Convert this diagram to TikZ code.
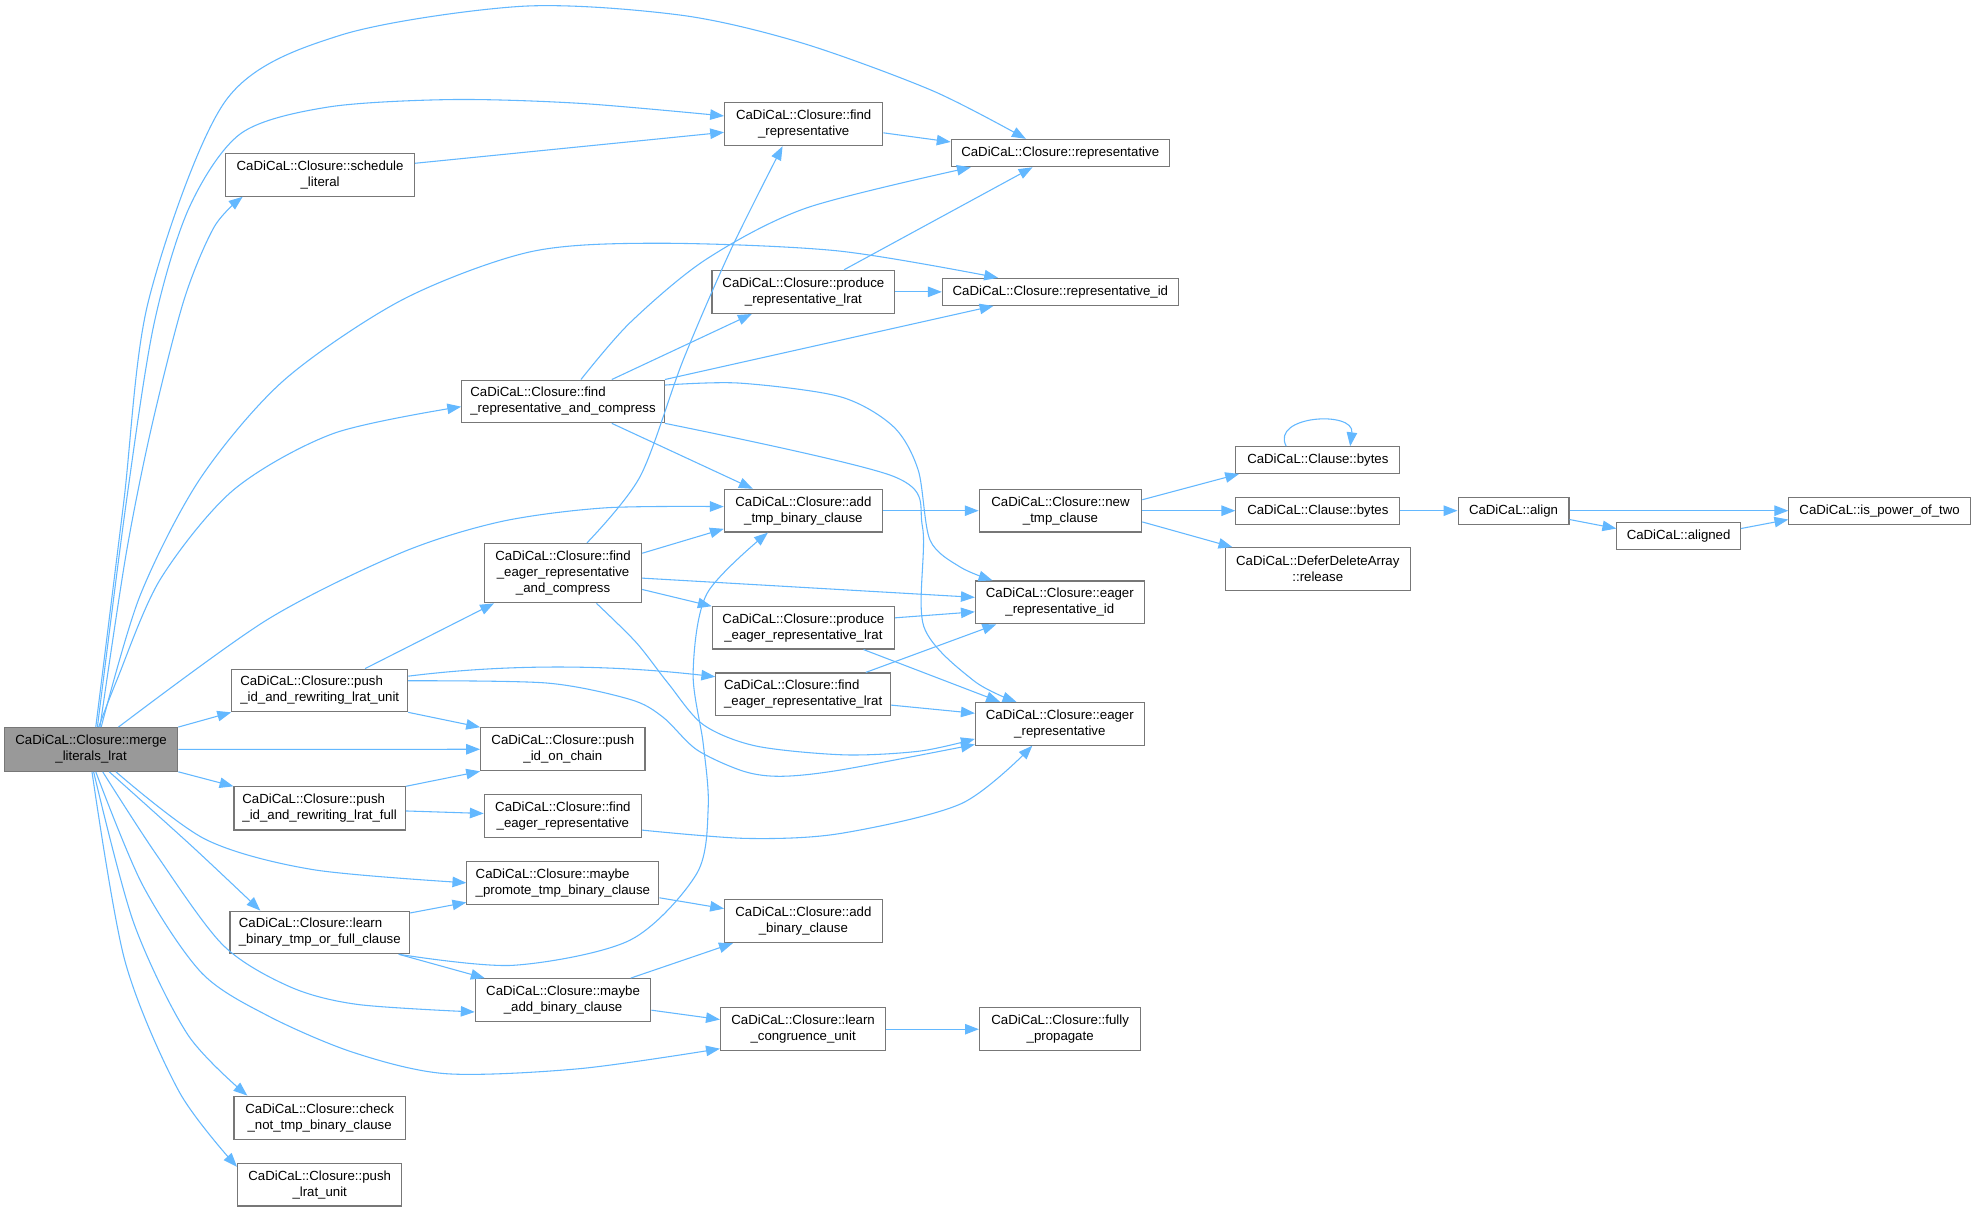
\documentclass[tikz,border=0pt]{standalone}
\usepackage{fontspec}
\setmainfont{Liberation Sans}
\usetikzlibrary{arrows.meta,calc}
\definecolor{edgecol}{HTML}{63B8FF}
\definecolor{boxborder}{HTML}{777777}
\definecolor{rootfill}{HTML}{999999}
\begin{document}
\begin{tikzpicture}[x=1pt,y=-1pt,
  nbox/.style={draw=boxborder, fill=white, line width=0.9pt, inner sep=0pt, align=center,
     font=\fontsize{10.5pt}{12.7pt}\selectfont},
  arr/.style={draw=edgecol, line width=0.85pt, line join=round, -{Triangle[length=11pt,width=8.3pt]}}]
\useasboundingbox (0,0) rectangle (1568,961);
\fill[white] (0,0) rectangle (1568,961);
% nodes
\node[nbox, fill=rootfill, minimum width=137.5pt, minimum height=34.6pt] (merge) at (72.3,594.7) {CaDiCaL::Closure::merge\\\_literals\_lrat};
\node[nbox, minimum width=150pt, minimum height=34pt] (sched) at (254,138.7) {CaDiCaL::Closure::schedule\\\_literal};
\node[nbox, minimum width=125.5pt, minimum height=34.4pt] (findrep) at (637.75,98.4) {CaDiCaL::Closure::find\\\_representative};
\node[nbox, minimum width=173pt, minimum height=21.7pt] (rep) at (841.3,121.45) {CaDiCaL::Closure::representative};
\node[nbox, minimum width=145pt, minimum height=34.2pt] (prodrep) at (637.5,231.6) {CaDiCaL::Closure::produce\\\_representative\_lrat};
\node[nbox, minimum width=187.2pt, minimum height=21.4pt] (repid) at (841.4,231.6) {CaDiCaL::Closure::representative\_id};
\node[nbox, align=left, minimum width=160.8pt, minimum height=33.9pt] (frc) at (446.8,318.55) {CaDiCaL::Closure::find\\\_representative\_and\_compress};
\node[nbox, minimum width=125.4pt, minimum height=33.9pt] (addtmp) at (637.5,405.25) {CaDiCaL::Closure::add\\\_tmp\_binary\_clause};
\node[nbox, minimum width=129pt, minimum height=33.9pt] (newtmp) at (841.5,405.25) {CaDiCaL::Closure::new\\\_tmp\_clause};
\node[nbox, minimum width=130.1pt, minimum height=21.1pt] (bytesA) at (1045.75,365.05) {CaDiCaL::Clause::bytes};
\node[nbox, minimum width=130.1pt, minimum height=21.5pt] (bytesB) at (1045.75,405.25) {CaDiCaL::Clause::bytes};
\node[nbox, minimum width=146.6pt, minimum height=34.2pt] (release) at (1045.7,451.7) {CaDiCaL::DeferDeleteArray\\::release};
\node[nbox, minimum width=88pt, minimum height=21.5pt] (align) at (1201,405.25) {CaDiCaL::align};
\node[nbox, minimum width=98pt, minimum height=21.2pt] (aligned) at (1332,425.4) {CaDiCaL::aligned};
\node[nbox, minimum width=144pt, minimum height=21.5pt] (ispow) at (1491.5,405.25) {CaDiCaL::is\_power\_of\_two};
\node[nbox, minimum width=124.7pt, minimum height=47.1pt] (ferc) at (446.8,454.75) {CaDiCaL::Closure::find\\\_eager\_representative\\\_and\_compress};
\node[nbox, minimum width=134pt, minimum height=34pt] (eagerid) at (841,478) {CaDiCaL::Closure::eager\\\_representative\_id};
\node[nbox, minimum width=144.6pt, minimum height=33.5pt] (prodeager) at (637.5,498.25) {CaDiCaL::Closure::produce\\\_eager\_representative\_lrat};
\node[nbox, align=left, minimum width=138.6pt, minimum height=34pt] (fel) at (637.3,551) {CaDiCaL::Closure::find\\\_eager\_representative\_lrat};
\node[nbox, minimum width=134pt, minimum height=33.9pt] (eager) at (841,574.35) {CaDiCaL::Closure::eager\\\_representative};
\node[nbox, align=left, minimum width=139.6pt, minimum height=33.8pt] (pu) at (253.7,547.9) {CaDiCaL::Closure::push\\\_id\_and\_rewriting\_lrat\_unit};
\node[nbox, minimum width=130.4pt, minimum height=34.1pt] (chain) at (446.6,594.55) {CaDiCaL::Closure::push\\\_id\_on\_chain};
\node[nbox, align=left, minimum width=135.9pt, minimum height=34.2pt] (pf) at (253.65,641.5) {CaDiCaL::Closure::push\\\_id\_and\_rewriting\_lrat\_full};
\node[nbox, minimum width=124.7pt, minimum height=34pt] (fer) at (446.65,647.5) {CaDiCaL::Closure::find\\\_eager\_representative};
\node[nbox, align=left, minimum width=152.3pt, minimum height=34pt] (promote) at (446.65,700.5) {CaDiCaL::Closure::maybe\\\_promote\_tmp\_binary\_clause};
\node[nbox, minimum width=125pt, minimum height=34pt] (addbin) at (637.5,731) {CaDiCaL::Closure::add\\\_binary\_clause};
\node[nbox, align=left, minimum width=142.5pt, minimum height=33.8pt] (lb) at (253.75,739.9) {CaDiCaL::Closure::learn\\\_binary\_tmp\_or\_full\_clause};
\node[nbox, minimum width=139.4pt, minimum height=34.2pt] (maybeadd) at (446.8,793.7) {CaDiCaL::Closure::maybe\\\_add\_binary\_clause};
\node[nbox, minimum width=131.2pt, minimum height=34pt] (congr) at (637.3,816.7) {CaDiCaL::Closure::learn\\\_congruence\_unit};
\node[nbox, minimum width=128.1pt, minimum height=34pt] (fully) at (841.25,816.7) {CaDiCaL::Closure::fully\\\_propagate};
\node[nbox, minimum width=135.9pt, minimum height=34.2pt] (checknot) at (253.65,886.9) {CaDiCaL::Closure::check\\\_not\_tmp\_binary\_clause};
\node[nbox, minimum width=130.4pt, minimum height=33.7pt] (lratunit) at (253.7,940.15) {CaDiCaL::Closure::push\\\_lrat\_unit};
% edges from merge
\draw[arr] plot[smooth] coordinates {($(merge.north)+(3.7,0)$) (98,400) (118,238) (179,80) (270,28) (414,5) (540,12) (636,34) (740,72) ($(rep.north)+(-27.3,0)$)};
\draw[arr] plot[smooth] coordinates {($(merge.north)+(5,0)$) (100,400) (122,258) (150,165) (191,106) (260,85) (358,79) (460,82) ($(findrep.west)+(0,-6.4)$)};
\draw[arr] plot[smooth] coordinates {($(merge.north)+(7,0)$) (100,440) (120,340) (146,238) (170,180) ($(sched.south west)+(14,0)$)};
\draw[arr] plot[smooth] coordinates {($(merge.north)+(8,0)$) (111,473) (158.7,380) (225,302) (319,238) (420,200) (519,193) (664,199) ($(repid.north)+(-49.4,0)$)};
\draw[arr] plot[smooth] coordinates {($(merge.north)+(6,0)$) (92.6,540) (127,460) (185,389) (264.5,344) ($(frc.west)+(0,4.15)$)};
\draw[arr] plot[smooth] coordinates {($(merge.north)+(21.7,0)$) (211.6,492) (317.5,439) (397,414) (480,403) ($(addtmp.west)+(0,-3.25)$)};
\draw[arr] (merge.north east) -- (pu.south west);
\draw[arr] (merge.east) -- (chain.west);
\draw[arr] (merge.south east) -- (pf.north west);
\draw[arr] plot[smooth] coordinates {($(merge.south)+(19.7,0)$) (163,666) (248,690) (promote.west)};
\draw[arr] plot[smooth] coordinates {($(merge.south)+(14.4,0)$) (152.3,671.5) ($(lb.north west)+(24.5,0)$)};
\draw[arr] plot[smooth] coordinates {($(merge.south)+(9.2,0)$) (124,678) (177,750) (230,783) (283.5,797) ($(maybeadd.west)+(0,9.3)$)};
\draw[arr] plot[smooth] coordinates {($(merge.south)+(3.7,0)$) (113,702) (160,772) (212.5,806) (280,835) (354,852) (460,848) ($(congr.south west)+(0,-2)$)};
\draw[arr] plot[smooth] coordinates {($(merge.south)+(2,0)$) (106,732) (149,821) ($(checknot.north west)+(11,0)$)};
\draw[arr] plot[smooth] coordinates {($(merge.south)+(0.7,0)$) (99,762) (142,866) ($(lratunit.north west)+(0,3)$)};
% other edges
\draw[arr] ($(sched.north east)+(0,8.3)$) -- ($(findrep.west)+(0,6.6)$);
\draw[arr] ($(findrep.east)+(0,7)$) -- ($(rep.north west)+(0,2.5)$);
\draw[arr] plot[smooth] coordinates {($(frc.north)+(14.2,0)$) (500,256) (560,206) (640,165) ($(rep.south west)+(16,0)$)};
\draw[arr] ($(frc.north)+(38.7,0)$) -- ($(prodrep.south west)+(32,0)$);
\draw[arr] (frc.north east) -- ($(repid.south west)+(41,0)$);
\draw[arr] ($(frc.south)+(38.7,0)$) -- ($(addtmp.north west)+(23,0)$);
\draw[arr] plot[smooth] coordinates {($(frc.east)+(0,-13)$) (587,304) (666.7,314.8) (709,338.6) (728.6,373) (738,428.6) (762,450) ($(eagerid.north west)+(14,0)$)};
\draw[arr] plot[smooth] coordinates {(frc.south east) (709,378) (732,418) (733,497) (772.5,540) ($(eager.north west)+(33,0)$)};
\draw[arr] plot[smooth] coordinates {($(ferc.north)+(19,0)$) (508,378) (542,286) (580,198) ($(findrep.south)+(-16.75,0)$)};
\draw[arr] ($(ferc.east)+(0,-15.75)$) -- ($(addtmp.south west)+(0,-3)$);
\draw[arr] ($(ferc.east)+(0,4)$) -- ($(eagerid.west)+(0,-4)$);
\draw[arr] ($(ferc.east)+(0,13)$) -- (prodeager.north west);
\draw[arr] plot[smooth] coordinates {($(ferc.south)+(26.5,0)$) (505,510) (530,542) (558,575) (600,592) (670,599) (730,596) ($(eager.west)+(0,12)$)};
\draw[arr] ($(prodrep.north)+(32.3,0)$) -- ($(rep.south west)+(65,0)$);
\draw[arr] (prodrep.east) -- (repid.west);
\draw[arr] (addtmp.east) -- (newtmp.west);
\draw[arr] ($(newtmp.north east)+(0,8.7)$) -- ($(bytesA.south west)+(3,0)$);
\draw[arr] (newtmp.east) -- (bytesB.west);
\draw[arr] ($(newtmp.south east)+(0,-8.5)$) -- ($(release.north west)+(6,0)$);
\draw[arr] ($(bytesA.north)+(-25.15,0)$) .. controls +(-12.6,-24.5) and +(3.6,-28.5) .. ($(bytesA.north)+(25.65,0)$);
\draw[arr] (bytesB.east) -- (align.west);
\draw[arr] (align.east) -- (ispow.west);
\draw[arr] ($(align.east)+(0,7)$) -- ($(aligned.west)+(0,-6)$);
\draw[arr] ($(aligned.east)+(0,-6)$) -- ($(ispow.west)+(0,7)$);
\draw[arr] ($(prodeager.east)+(0,-8)$) -- ($(eagerid.west)+(0,7.5)$);
\draw[arr] ($(prodeager.south east)+(-25,0)$) -- ($(eager.north west)+(20,0)$);
\draw[arr] ($(fel.north east)+(-20,0)$) -- ($(eagerid.south west)+(17,0)$);
\draw[arr] ($(fel.east)+(0,8.5)$) -- ($(eager.west)+(0,-8.35)$);
\draw[arr] ($(pu.north)+(36,0)$) -- ($(ferc.south west)+(8,0)$);
\draw[arr] ($(pu.north east)+(0,6)$) .. controls (400,527) and (480,527) .. ($(fel.west)+(0,-14)$);
\draw[arr] plot[smooth] coordinates {($(pu.east)+(0,-7.7)$) (434,542) (500,555) (526,569) (553,595) (590,612) (620,616) (667,611) ($(eager.south west)+(0,-1)$)};
\draw[arr] (pu.south east) -- (chain.north west);
\draw[arr] (pf.north east) -- (chain.south west);
\draw[arr] ($(pf.east)+(0,2)$) -- ($(fer.west)+(0,-2)$);
\draw[arr] plot[smooth] coordinates {($(fer.east)+(0,11.2)$) (592.6,665.3) (666.7,661.4) (763,637.6) ($(eager.south west)+(45.6,0)$)};
\draw[arr] ($(promote.east)+(0,11.9)$) -- ($(addbin.west)+(0,-10)$);
\draw[arr] ($(lb.north east)+(0,1.9)$) -- ($(promote.south west)+(0,-1.9)$);
\draw[arr] plot[smooth] coordinates {($(lb.south east)+(-9,0)$) (407,766) (500,746) (553,693) (562,640) (558,590) (550,534) (561,471) ($(addtmp.south west)+(35,0)$)};
\draw[arr] ($(lb.south east)+(-9,0)$) -- ($(maybeadd.north west)+(8,0)$);
\draw[arr] ($(maybeadd.north east)+(-16.5,0)$) -- ($(addbin.south west)+(7,0)$);
\draw[arr] ($(maybeadd.east)+(0,7.9)$) -- ($(congr.west)+(0,-7.7)$);
\draw[arr] (congr.east) -- (fully.west);
\end{tikzpicture}
\end{document}
